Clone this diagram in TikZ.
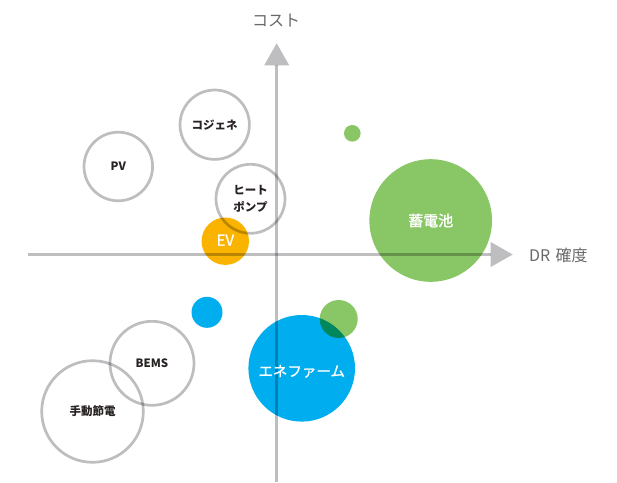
\documentclass[tikz,border=0pt]{standalone}
\usepackage{fontspec}
\setmainfont{Noto Sans CJK JP}
\newfontfamily\labelfont[FakeBold=1.2]{Noto Sans CJK JP}
\usetikzlibrary{arrows.meta,positioning}

\definecolor{axisgray}{RGB}{190,190,193}
\definecolor{labelgray}{RGB}{105,105,108}
\definecolor{inkdark}{RGB}{40,34,34}
\definecolor{leafgreen}{RGB}{137,198,101}
\definecolor{skyblue}{RGB}{0,174,239}
\definecolor{evorange}{RGB}{250,180,0}

\tikzset{
  axis/.style={draw=axisgray,line width=2.7pt,
    -{Triangle[length=22pt,width=25pt,line width=0pt]}},
  ring/.style={circle,draw=axisgray,line width=2.7pt,inner sep=0pt},
  blob/.style={circle,inner sep=0pt},
  ringtext/.style={text=inkdark,align=center,inner sep=0pt,
    font=\fontsize{11.5}{17.5}\selectfont\bfseries},
  blobtext/.style={text=white,inner sep=0pt,font=\labelfont\fontsize{15}{18}\selectfont},
  axislabel/.style={text=labelgray,font=\fontsize{16}{19}\selectfont,inner sep=0pt}
}

\begin{document}
\begin{tikzpicture}[x=1pt,y=-1pt]

                \fill[white] (0,0) rectangle (617,482);
                \useasboundingbox (0,0) rectangle (617,482);

                \begin{scope}[blend mode=multiply]
                % filled items
                \node[blob,fill=leafgreen,minimum size=122.6pt] (battery) at (430.7,220.5) {};
                \node[blob,fill=leafgreen,minimum size=16.6pt] (dotgreen) at (352.3,133.3) {};
                \node[blob,fill=skyblue,minimum size=106.6pt] (enefarm) at (301.7,368.3) {};
                \node[blob,fill=leafgreen,minimum size=38pt] (midgreen) at (338.7,319) {};
                \node[blob,fill=skyblue,minimum size=31pt] (dotblue) at (207,312.3) {};
                \node[blob,fill=evorange,minimum size=47.4pt] (ev) at (225.3,241.2) {};

                % outlined items
                \node[ring,minimum size=68.6pt] (pv) at (118.3,166.5) {};
                \node[ring,minimum size=69.4pt] (cogen) at (214.7,124.7) {};
                \node[ring,minimum size=69pt] (heatpump) at (250.5,198.8) {};
                \node[ring,minimum size=84pt] (bems) at (152,363.3) {};
                \node[ring,minimum size=101.6pt] (manual) at (92.5,411.5) {};

                % axes
                \coordinate (xstart) at (28,254.5);
                \coordinate (xend) at (512.7,254.5);
                \coordinate (ystart) at (276.7,482);
                \coordinate (yend) at (276.7,43.3);

                \draw[axis] (xstart) -- (xend);
                \draw[axis] (ystart) -- (yend);
                \end{scope}

                % labels
                \node[blobtext] (battery-t) at (battery) {蓄電池};
                \node[blobtext,yshift=-3pt,font=\labelfont\fontsize{14.5}{18}\selectfont] (enefarm-t) at (enefarm) {エネファーム};
                \node[blobtext,yshift=1pt] (ev-t) at (ev) {EV};
                \node[ringtext] (pv-t) at (pv) {PV};
                \node[ringtext] (cogen-t) at (cogen) {コジェネ};
                \node[ringtext] (heatpump-t) at (heatpump) {ヒート\\ポンプ};
                \node[ringtext] (bems-t) at (bems) {BEMS};
                \node[ringtext] (manual-t) at (manual) {手動節電};

                \node[axislabel,anchor=west] (xlabel) at (529,255) {DR\,\,確度};
                \node[axislabel] (ylabel) at (276,20.7) {コスト};

            \end{tikzpicture}
\end{document}
